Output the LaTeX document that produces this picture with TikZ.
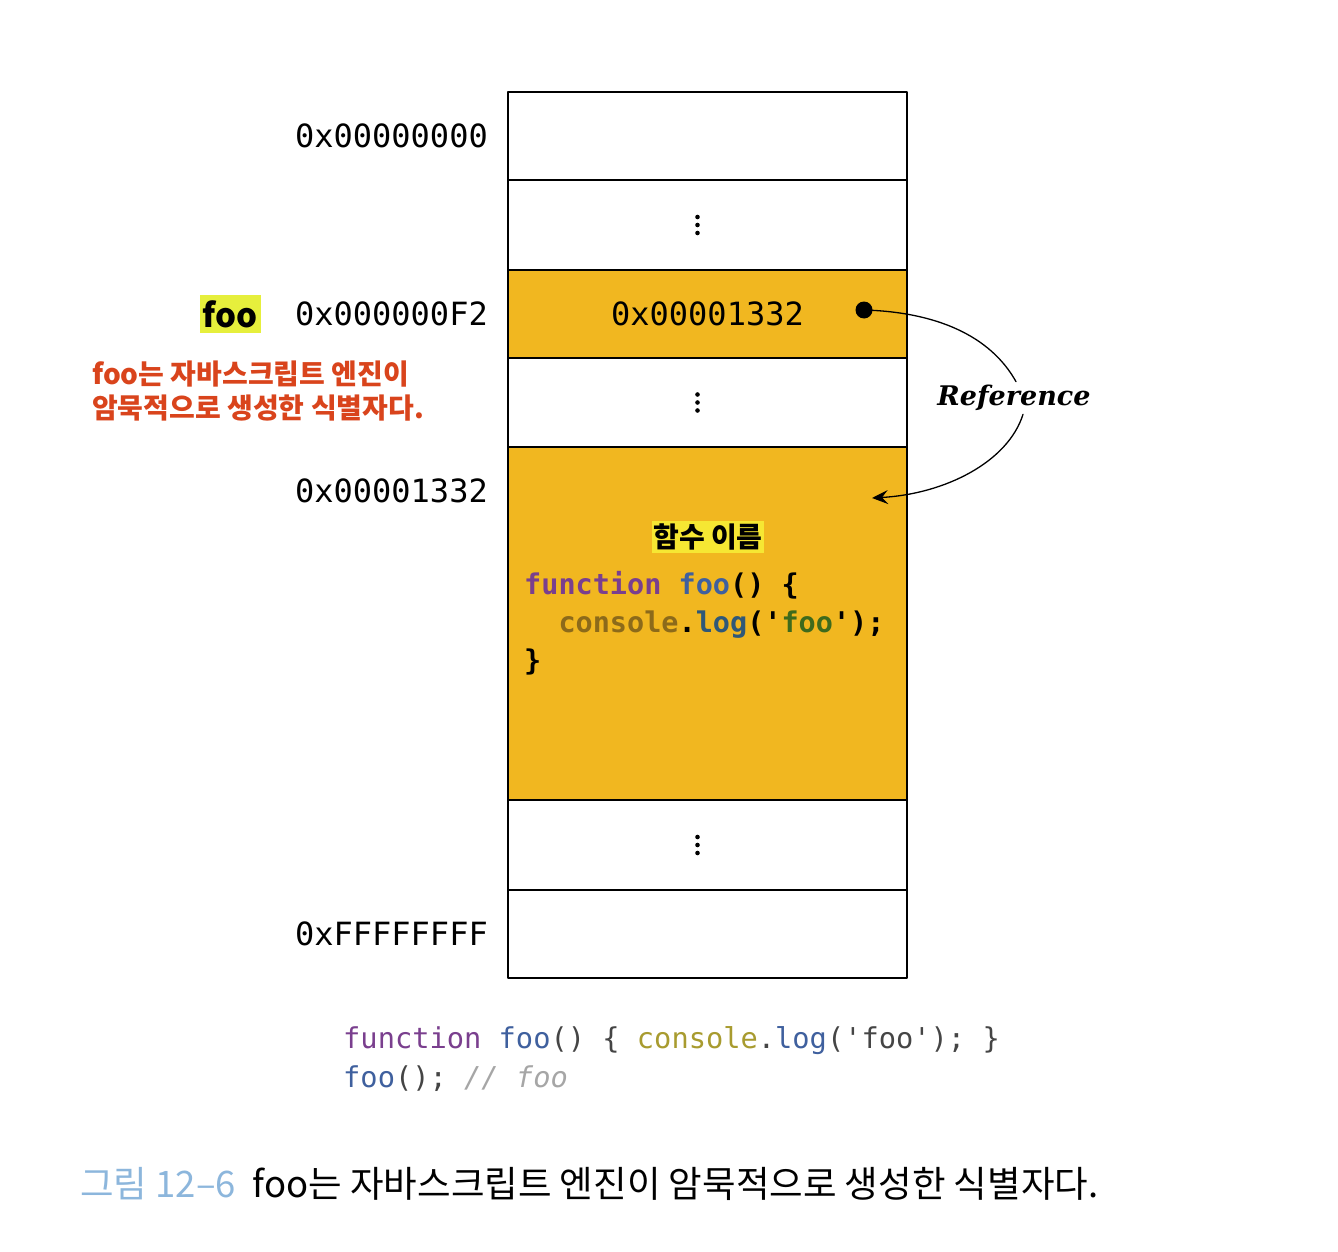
\documentclass[tikz,border=0pt]{standalone}
\usepackage{fontspec}
\setmonofont{DejaVu Sans Mono}
\newfontfamily\krfont{Noto Sans CJK KR}
\newfontfamily\reffont{DejaVu Serif}
\usetikzlibrary{positioning,arrows.meta}
\definecolor{memorange}{HTML}{F1B720}
\definecolor{hlfoo}{HTML}{E6EF3C}
\definecolor{hlname}{HTML}{F6E733}
\definecolor{notered}{HTML}{D9441C}
\definecolor{kwpurple}{HTML}{7A3F8E}
\definecolor{fnblue}{HTML}{3F609E}
\definecolor{conbrown}{HTML}{8C6A1A}
\definecolor{logblue}{HTML}{2F5878}
\definecolor{strgreen}{HTML}{3E6A1C}
\definecolor{conolive}{HTML}{A89B2F}
\definecolor{codegray}{HTML}{454545}
\definecolor{capblue}{HTML}{8CB6DC}
\tikzset{
  cell/.style={draw, line width=1.8pt, minimum width=399pt, inner sep=0pt, outer sep=0pt},
  addr/.style={font=\fontsize{32}{38}\selectfont\ttfamily, inner sep=0pt},
}
\begin{document}
\begin{tikzpicture}[x=1pt, y=-1pt, line join=round, line cap=round, >=Stealth]
  \useasboundingbox[fill=white] (0,0) rectangle (1338,1252);
  % memory cells
  \node[cell, minimum height=88pt] (r1) at (707.5,136) {};
  \node[cell, minimum height=90pt, below=0pt of r1] (r2) {};
  \node[cell, minimum height=88pt, fill=memorange, below=0pt of r2, addr] (r3) {0x00001332};
  \node[cell, minimum height=89pt, below=0pt of r3] (r4) {};
  \node[cell, minimum height=353pt, fill=memorange, below=0pt of r4] (r5) {};
  \node[cell, minimum height=90pt, below=0pt of r5] (r6) {};
  \node[cell, minimum height=88pt, below=0pt of r6] (r7) {};
  \foreach \p in {r2,r4,r6}
    \foreach \d in {-8,0,8}
      \fill ([xshift=-10pt, yshift=\d pt]\p.center) circle (2.3pt);
  % addresses
  \foreach \r/\t in {r1/0x00000000, r3/0x000000F2, r7/0xFFFFFFFF}
    \node[addr, left=20pt of \r] (a\r) {\t};
  \node[addr, anchor=east] (ar5) at ([xshift=-20pt, yshift=-44pt]r5.north west) {0x00001332};
  % identifier
  \node[fill=hlfoo, inner xsep=3pt, minimum height=38pt, font=\fontsize{33}{38}\selectfont\krfont\bfseries, left=34pt of ar3] (foo) {foo};
  \node[anchor=north west, align=left, inner sep=0pt, text=notered, font=\fontsize{28}{34}\selectfont\krfont\bfseries] (note) at (92,361) {foo는 자바스크립트 엔진이\\암묵적으로 생성한 식별자다.};
  % function object
  \node[fill=hlname, inner xsep=1pt, inner ysep=3pt, font=\fontsize{28}{30}\selectfont\krfont\bfseries] (fname) at (708,537) {함수 이름};
  \node[anchor=north west, align=left, inner sep=0pt, font=\fontsize{28.5}{38}\selectfont\ttfamily\bfseries] (fbody) at (524,571)
    {\textcolor{kwpurple}{function} \textcolor{fnblue}{foo}() \{\\\ \ \textcolor{conbrown}{console}.\textcolor{logblue}{log}('\textcolor{strgreen}{foo}');\\\}};
  % reference
  \node[circle, fill=black, inner sep=0pt, minimum size=17pt] (dot) at (864,310) {};
  \node[font=\fontsize{27}{32}\selectfont\reffont\bfseries\itshape] (ref) at (1014,398) {Reference};
  \coordinate (tip) at (872,498);
  \draw[line width=1.3pt] (dot.center) .. controls (935,312) and (990,335) .. ([xshift=2pt]ref.north);
  \draw[line width=1.3pt, -{Stealth[length=16pt, width=14pt, inset=6pt]}] ([xshift=9pt]ref.south) .. controls (1008,462) and (945,494) .. (tip);
  % source code
  \node[anchor=north west, align=left, inner sep=0pt, text=codegray, font=\fontsize{28.7}{39}\selectfont\ttfamily] (src) at (343,1026)
    {\textcolor{kwpurple}{function} \textcolor{fnblue}{foo}() \{ \textcolor{conolive}{console}.\textcolor{fnblue}{log}('foo'); \}\\\textcolor{fnblue}{foo}(); \textcolor{gray!70}{\itshape // foo}};
  % caption
  \node[anchor=base west, inner sep=0pt, font=\fontsize{36.5}{40}\selectfont\krfont] (cap) at (80,1197) {\textcolor{capblue}{그림 12–6}\hspace{17pt}foo는 자바스크립트 엔진이 암묵적으로 생성한 식별자다.};
\end{tikzpicture}
\end{document}
